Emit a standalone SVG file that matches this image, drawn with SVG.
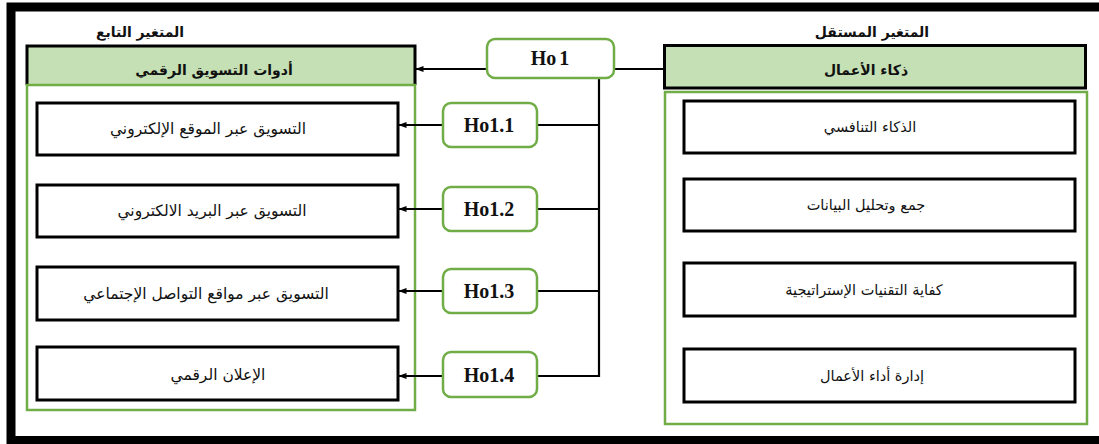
<svg xmlns="http://www.w3.org/2000/svg" width="1099" height="444" viewBox="0 0 1099 444">
  <defs>
    <marker id="arr" viewBox="0 0 8 8" refX="7.5" refY="4" markerWidth="8" markerHeight="8" markerUnits="userSpaceOnUse" orient="auto">
      <path d="M0,1 L8,4 L0,7 Z" fill="#000"/>
    </marker>
    <style>
      .frame { fill: none; stroke: #000; stroke-width: 9; }
      .hdr { fill: #c5e0b4; }
      .edge { fill: none; stroke: #000; stroke-width: 3; }
      .grp { fill: none; stroke: #70ad47; stroke-width: 2.5; }
      .box { fill: #fff; stroke: #000; stroke-width: 3; }
      .hyp { fill: #fff; stroke: #70ad47; stroke-width: 2.5; }
      .link { fill: none; stroke: #000; stroke-width: 2.2; }
      .ar { font-family: "DejaVu Sans", "Noto Sans", sans-serif; font-size: 15.5px; fill: #111; text-anchor: middle; }
      .arr { font-family: "DejaVu Sans", "Noto Sans", sans-serif; font-size: 14.5px; fill: #111; text-anchor: middle; }
      .arb { font-family: "DejaVu Sans", "Noto Sans", sans-serif; font-size: 14px; font-weight: bold; fill: #111; text-anchor: middle; }
      .hl { font-family: "Liberation Serif", "DejaVu Serif", serif; font-size: 20px; font-weight: bold; fill: #111; text-anchor: middle; }
    </style>
  </defs>

  <rect class="frame" x="11" y="7" width="1100" height="433.5"/>

  <!-- dependent variable -->
  <g id="dependent">
    <text class="arb" x="140" y="37" direction="rtl">المتغير التابع</text>
    <rect class="hdr" x="27" y="46" width="388" height="39"/>
    <path class="edge" d="M27,85 V46 H415 V85"/>
    <rect class="grp" x="27" y="85" width="388" height="325"/>
    <text class="arb" x="214" y="75" direction="rtl">أدوات التسويق الرقمي</text>
  </g>
  <g id="dep1">
    <rect class="box" x="37" y="103" width="361" height="52"/>
    <text class="ar" x="208" y="134" direction="rtl">التسويق عبر الموقع الإلكتروني</text>
  </g>
  <g id="dep2">
    <rect class="box" x="37" y="185" width="361" height="52"/>
    <text class="ar" x="212" y="216" direction="rtl">التسويق عبر البريد الالكتروني</text>
  </g>
  <g id="dep3">
    <rect class="box" x="37" y="267" width="361" height="53"/>
    <text class="ar" x="206" y="299" direction="rtl">التسويق عبر مواقع التواصل الإجتماعي</text>
  </g>
  <g id="dep4">
    <rect class="box" x="37" y="347" width="361" height="53"/>
    <text class="ar" x="218" y="380" direction="rtl">الإعلان الرقمي</text>
  </g>

  <!-- independent variable -->
  <g id="independent">
    <text class="arb" x="872" y="37" direction="rtl">المتغير المستقل</text>
    <rect class="hdr" x="664.5" y="45.5" width="421" height="42.5" stroke="#000" stroke-width="3"/>
    <rect class="grp" x="665" y="92" width="422" height="332"/>
    <text class="arb" x="866" y="75" direction="rtl">ذكاء الأعمال</text>
  </g>
  <g id="ind1">
    <rect class="box" x="684" y="101" width="391" height="52"/>
    <text class="arr" x="870" y="132" direction="rtl">الذكاء التنافسي</text>
  </g>
  <g id="ind2">
    <rect class="box" x="684" y="179" width="391" height="52"/>
    <text class="arr" x="866" y="210" direction="rtl">جمع وتحليل البيانات</text>
  </g>
  <g id="ind3">
    <rect class="box" x="684" y="263" width="391" height="53"/>
    <text class="arr" x="864" y="295" direction="rtl">كفاية التقنيات الإستراتيجية</text>
  </g>
  <g id="ind4">
    <rect class="box" x="684" y="349" width="391" height="53"/>
    <text class="arr" x="872" y="381" direction="rtl">إدارة أداء الأعمال</text>
  </g>

  <!-- connectors -->
  <g id="connectors">
    <path class="link" d="M664,69 H614"/>
    <path class="link" d="M487,69 H416" marker-end="url(#arr)"/>
    <path class="link" d="M599,78 V377"/>
    <path class="link" d="M599,125 H537"/>
    <path class="link" d="M599,209 H537"/>
    <path class="link" d="M599,291 H537"/>
    <path class="link" d="M600,376 H537"/>
    <path class="link" d="M443,125 H399" marker-end="url(#arr)"/>
    <path class="link" d="M443,209 H399" marker-end="url(#arr)"/>
    <path class="link" d="M443,291 H399" marker-end="url(#arr)"/>
    <path class="link" d="M443,376 H399" marker-end="url(#arr)"/>
  </g>

  <!-- hypotheses -->
  <g id="h0">
    <rect class="hyp" x="487" y="39" width="127" height="39" rx="8"/>
    <text class="hl" x="550" y="65" font-size="17">Ho<tspan dx="3">1</tspan></text>
  </g>
  <g id="h1">
    <rect class="hyp" x="443" y="103" width="94" height="44" rx="8"/>
    <text class="hl" x="489" y="132">Ho1.1</text>
  </g>
  <g id="h2">
    <rect class="hyp" x="443" y="187" width="94" height="44" rx="8"/>
    <text class="hl" x="489" y="216">Ho1.2</text>
  </g>
  <g id="h3">
    <rect class="hyp" x="443" y="269" width="94" height="44" rx="8"/>
    <text class="hl" x="489" y="298">Ho1.3</text>
  </g>
  <g id="h4">
    <rect class="hyp" x="443" y="352" width="94" height="45" rx="8"/>
    <text class="hl" x="489" y="382">Ho1.4</text>
  </g>
</svg>
